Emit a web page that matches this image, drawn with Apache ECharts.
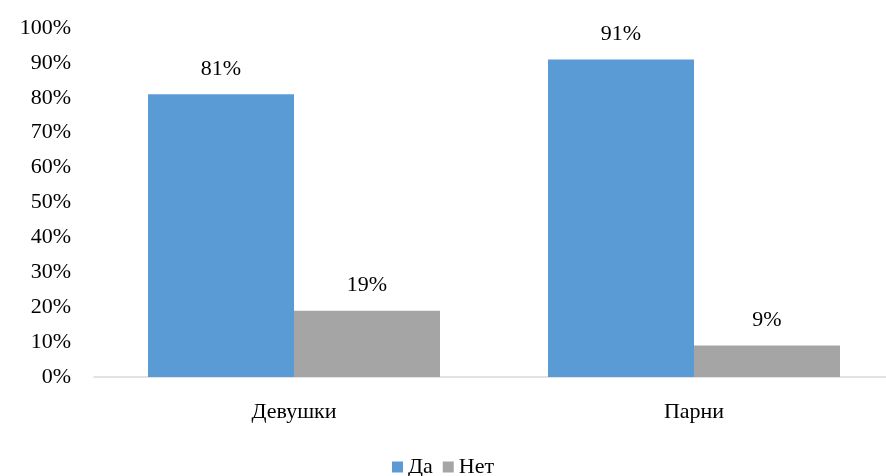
<!DOCTYPE html>
<html>
<head>
<meta charset="utf-8">
<script src="https://cdn.jsdelivr.net/npm/echarts@6/dist/echarts.min.js"></script>
<style>
    html, body { margin: 0; padding: 0; background: #fff; }
    #chart { width: 886px; height: 476px; }
</style>
</head>
<body>
<div id="chart"></div>
<script>
let categories = ['Девушки', 'Парни'];
let yesValues = [81, 91];
let noValues = [19, 9];
let yTicks = [0, 10, 20, 30, 40, 50, 60, 70, 80, 90, 100];

let font = 'Liberation Serif';
let chart = echarts.init(document.getElementById('chart'));
let option = {
    backgroundColor: '#fff',
    animation: false,
    textStyle: { fontFamily: font },
    legend: {
        top: 451,
        left: 'center',
        itemWidth: 11,
        itemHeight: 11,
        itemGap: 10,
        icon: 'rect',
        textStyle: { color: '#000', fontSize: 22, fontFamily: font },
        data: ['Да', 'Нет']
    },
    grid: {
        left: 94,
        right: -8,
        top: 28,
        height: 349,
        outerBoundsMode: 'none'
    },
    xAxis: {
        type: 'category',
        data: categories,
        axisTick: { show: false },
        axisLine: { lineStyle: { color: '#d9d9d9', width: 1.5 } },
        axisLabel: { color: '#000', fontSize: 22, margin: 24, fontFamily: font }
    },
    yAxis: {
        type: 'value',
        min: yTicks[0],
        max: yTicks[yTicks.length - 1],
        interval: 10,
        axisLine: { show: false },
        axisTick: { show: false },
        splitLine: { show: false },
        axisLabel: {
            color: '#000',
            fontSize: 22,
            margin: 23,
            fontFamily: font,
            formatter: '{value}%'
        }
    },
    series: [
        {
            name: 'Да',
            type: 'bar',
            data: yesValues,
            barGap: 0,
            barCategoryGap: '27%',
            itemStyle: { color: '#5B9BD5' },
            label: {
                show: true,
                position: 'top',
                distance: 14,
                color: '#000',
                fontSize: 22,
                fontFamily: font,
                formatter: '{c}%'
            }
        },
        {
            name: 'Нет',
            type: 'bar',
            data: noValues,
            barGap: 0,
            barCategoryGap: '27%',
            itemStyle: { color: '#A5A5A5' },
            label: {
                show: true,
                position: 'top',
                distance: 14,
                color: '#000',
                fontSize: 22,
                fontFamily: font,
                formatter: '{c}%'
            }
        }
    ]
};
chart.setOption(option);
</script>
</body>
</html>
